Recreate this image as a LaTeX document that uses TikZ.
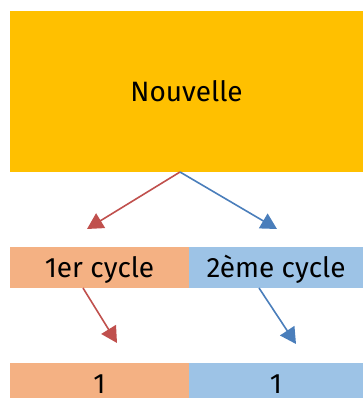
\documentclass[tikz,border=0pt]{standalone}
\usepackage{fontspec}
\setmainfont{Fira Sans}
\usepackage{xcolor}
\usetikzlibrary{arrows.meta}

\definecolor{gold}{HTML}{FFC000}
\definecolor{peach}{HTML}{F4B183}
\definecolor{sky}{HTML}{9DC3E6}
\definecolor{redline}{HTML}{C0504D}
\definecolor{blueline}{HTML}{4A7EBB}

\begin{document}
\begin{tikzpicture}[x=1pt, y=-1pt,
  box/.style={inner sep=0pt, outer sep=0pt, text height=20pt, text depth=0pt,
    font=\fontsize{28}{30}\selectfont},
  redarrow/.style={draw=redline, line width=1.6pt, -{Triangle[length=16pt, width=17pt]}},
  bluearrow/.style={draw=blueline, line width=1.6pt, -{Triangle[length=16pt, width=17pt]}}]
  % Fix the page size
  \useasboundingbox (0,0) rectangle (363,398);
  \clip (0,0) rectangle (363,398);

  % Top box
  \node[box, fill=gold, minimum width=353pt, minimum height=161pt] (nouvelle) at (186.5,91.5) {Nouvelle};

  % Second row
  \node[box, fill=peach, minimum width=179pt, minimum height=41pt] (cycleA) at (99.5,267.5) {1er cycle};
  \node[box, fill=sky, minimum width=174pt, minimum height=41pt] (cycleB) at (276,267.5) {2ème cycle};

  % Third row (cut off at the bottom, as in the original)
  \node[box, fill=peach, minimum width=179pt, minimum height=41pt] (unA) at (99.5,383.5) {1};
  \node[box, fill=sky, minimum width=174pt, minimum height=41pt] (unB) at (276,383.5) {1};

  % Arrow tips
  \coordinate (tipA) at (87,229);
  \coordinate (tipB) at (277,229);
  \coordinate (tipC) at (117,343);
  \coordinate (tipD) at (296,344);

  % Arrows
  \draw[redarrow] ([xshift=-6.5pt]nouvelle.south) -- (tipA);
  \draw[bluearrow] ([xshift=-6.5pt]nouvelle.south) -- (tipB);
  \draw[redarrow] ([xshift=-16.5pt]cycleA.south) -- (tipC);
  \draw[bluearrow] ([xshift=-17pt]cycleB.south) -- (tipD);

\end{tikzpicture}
\end{document}
